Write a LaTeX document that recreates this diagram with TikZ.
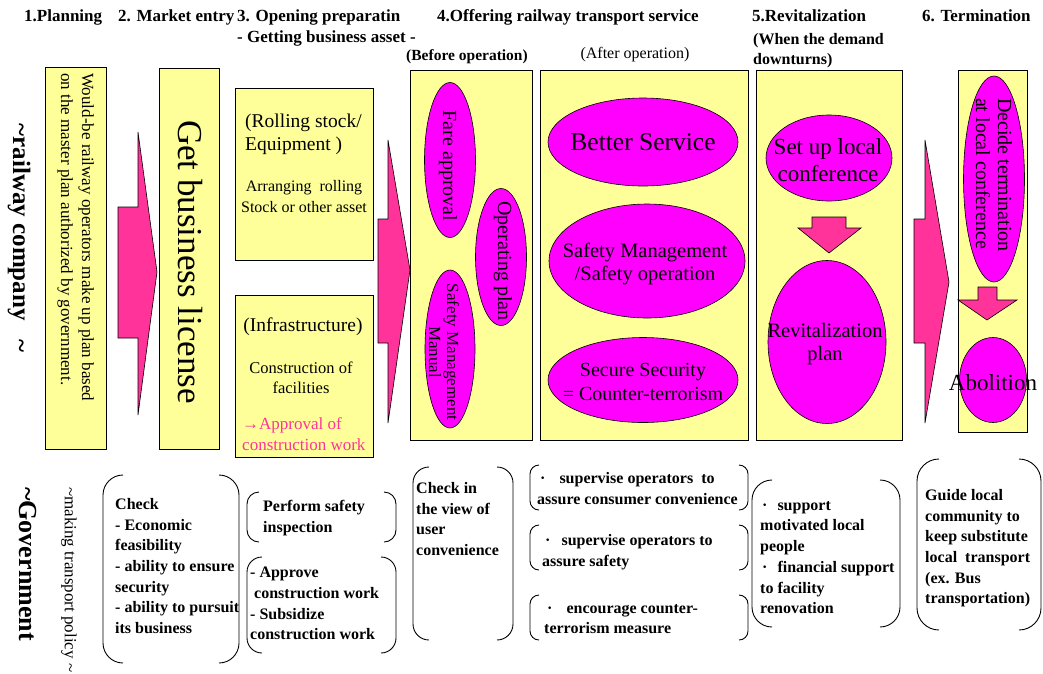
\documentclass[tikz,border=0pt]{standalone}
\usepackage{fontspec}
\setmainfont{Liberation Serif}
\definecolor{stageyellow}{HTML}{FFFF99}
\definecolor{goalmagenta}{HTML}{FF00FF}
\definecolor{flowpink}{HTML}{FF3399}
\usetikzlibrary{shapes.geometric}

\begin{document}
\begin{tikzpicture}[
  x=1pt,y=-1pt,
  stagebox/.style={fill=stageyellow,draw=black,line width=0.9pt},
  goal/.style={ellipse,fill=goalmagenta,draw=black,line width=0.6pt,inner sep=0pt},
  goaltext/.style={inner sep=0pt,align=center},
  flowarrow/.style={fill=flowpink,draw=black,line width=0.6pt},
  bracket/.style={draw=black,line width=0.9pt},
  stagehead/.style={inner sep=0pt,anchor=base west,font=\bfseries\fontsize{17}{20}\selectfont},
  phasehead/.style={inner sep=0pt,font=\fontsize{16}{20}\selectfont},
  boxtext/.style={inner sep=0pt,align=center},
  govtext/.style={inner sep=0pt,anchor=north west,align=left,font=\bfseries\fontsize{16}{20.7}\selectfont},
  sidelabel/.style={inner sep=0pt,rotate=-90}
]
  \useasboundingbox (0,0) rectangle (1043,673);

  \node[stagehead] (h1) at (24,21) {1.Planning};
  \node[stagehead] (h2) at (118,21) {2. Market entry};
  \node[stagehead] (h3) at (237,21) {3. Opening preparatin};
  \node[stagehead] (h3b) at (237,42) {- Getting business asset -};
  \node[stagehead] (h4) at (437,21) {4.Offering railway transport service};
  \node[stagehead] (h5) at (752,21) {5.Revitalization};
  \node[stagehead] (h6) at (922,21) {6. Termination};

  \node[phasehead,font=\bfseries\fontsize{15.5}{18}\selectfont] (before) at (467,57) {(Before operation)};
  \node[phasehead] (after) at (635,55) {(After operation)};
  \node[phasehead,font=\bfseries\fontsize{16}{20.5}\selectfont,align=left,anchor=north west] (demand) at (753,33) {(When the demand\\downturns)};

  \foreach \xa/\ya/\xb/\yb in {45/67/106/449, 159/68/219/449, 235/88/373/260, 235/295/373/457,
                                410/70/532/440, 540/70/748/440, 756/70/902/440, 958/70/1027/432} {
    \draw[stagebox] (\xa,\ya) rectangle (\xb,\yb);
  }

  \draw[flowarrow] (118,207) -- (138,207) -- (138,132) -- (157,272) -- (138,415) -- (138,338) -- (118,338) -- cycle;
  \draw[flowarrow] (378,219) -- (388,219) -- (388,140) -- (410,270) -- (388,423) -- (388,343) -- (378,343) -- cycle;
  \draw[flowarrow] (914,219) -- (925,219) -- (925,140) -- (949,282) -- (925,423) -- (925,343) -- (914,343) -- cycle;

  \node[goal,minimum width=51,minimum height=155] (fare) at (450,160) {};
  \node[goal,minimum width=51,minimum height=137] (opplan) at (501,257) {};
  \node[goal,minimum width=50,minimum height=158] (manual) at (450,349) {};
  \node[goal,minimum width=190,minimum height=88] (better) at (643,142) {};
  \node[goal,minimum width=196,minimum height=114] (safety) at (647,261) {};
  \node[goal,minimum width=190,minimum height=85] (secure) at (643,380) {};
  \node[goal,minimum width=126,minimum height=86] (conf) at (829,158) {};
  \node[goal,minimum width=118,minimum height=163] (revplan) at (827,342) {};
  \node[goal,minimum width=61,minimum height=206] (decide) at (994,179) {};
  \node[goal,minimum width=67,minimum height=85] (abolish) at (993,380) {};

  \draw[flowarrow] (812,217) -- (846,217) -- (846,228) -- (861,228) -- (829,253) -- (798,228) -- (812,228) -- cycle;
  \draw[flowarrow] (978,287) -- (997,287) -- (997,300) -- (1017,300) -- (987,320) -- (958,300) -- (978,300) -- cycle;

  \node[boxtext,rotate=-90,align=left,anchor=north west,font=\fontsize{17}{21}\selectfont] (plantxt) at (94,73)
    {Would-be railway operators make up plan based\\on the master plan authorized by government.};
  \node[boxtext,rotate=-90,font=\fontsize{35}{40}\selectfont] (licensetxt) at (190,262) {Get business license};
  \node[boxtext,align=left,anchor=west,font=\fontsize{19.5}{23}\selectfont] (rolltxt) at (245,134) {(Rolling stock/\\Equipment )};
  \node[boxtext,font=\fontsize{16}{21}\selectfont] (arrangetxt) at (304,197) {Arranging\ \ rolling\\Stock or other asset};
  \node[boxtext,font=\fontsize{19.5}{23}\selectfont] (infratxt) at (303,327) {(Infrastructure)};
  \node[boxtext,font=\fontsize{16.5}{19.5}\selectfont] (constxt) at (301,378) {Construction of\\facilities};
  \node[boxtext,align=left,anchor=west,text=flowpink,font=\fontsize{17}{21}\selectfont] (approvaltxt) at (242,434) {→Approval of\\construction work};

  \node[goaltext,rotate=-90,font=\fontsize{20}{22}\selectfont] (faretxt) at (448,166) {Fare approval};
  \node[goaltext,rotate=-90,font=\fontsize{20}{22}\selectfont] (opplantxt) at (503,261) {Operating plan};
  \node[goaltext,rotate=-90,font=\fontsize{17}{18}\selectfont] (manualtxt) at (444,352) {Safety Management\\Manual};
  \node[goaltext,font=\fontsize{25.5}{30}\selectfont] (bettertxt) at (643,142) {Better Service};
  \node[goaltext,font=\fontsize{20.5}{23}\selectfont] (safetytxt) at (645,264) {Safety Management\\/Safety operation};
  \node[goaltext,font=\fontsize{20}{24}\selectfont] (securetxt) at (643,382) {Secure Security\\= Counter-terrorism};
  \node[goaltext,font=\fontsize{23}{27}\selectfont] (conftxt) at (828,160) {Set up local\\conference};
  \node[goaltext,font=\fontsize{20.5}{23}\selectfont] (revplantxt) at (825,344) {Revitalization\\plan};
  \node[goaltext,rotate=-90,align=left,font=\fontsize{20}{22}\selectfont] (decidetxt) at (994,175) {Decide termination\\at local conference};
  \node[goaltext,font=\fontsize{23}{27}\selectfont] (abolishtxt) at (993,383) {Abolition};

  \node[sidelabel,font=\bfseries\fontsize{25}{30}\selectfont] (railside) at (19,238) {\textasciitilde railway company\ \ \ \textasciitilde};
  \node[sidelabel,anchor=west,font=\bfseries\fontsize{26}{30}\selectfont] (govside) at (28,487) {\textasciitilde Government};
  \node[sidelabel,anchor=west,font=\fontsize{17}{20}\selectfont] (policyside) at (69,487) {\textasciitilde making transport policy \textasciitilde};

  \foreach \xl/\xr/\yt/\yb/\r in {103/239/475/663/20, 247/396/492/542/12, 247/396/557/653/15,
                                   413/513/467/640/16, 530/748/465/510/9, 530/748/525/570/9,
                                   530/748/595/640/9, 752/900/480/627/20, 917/1041/459/630/22} {
    \draw[bracket,rounded corners=\r pt] (\xl+\r,\yt) -- (\xl,\yt) -- (\xl,\yb) -- (\xl+\r,\yb);
    \draw[bracket,rounded corners=\r pt] (\xr-\r,\yt) -- (\xr,\yt) -- (\xr,\yb) -- (\xr-\r,\yb);
  }

  \node[govtext] (checktxt) at (115,498) {Check\\- Economic\\feasibility\\- ability to ensure\\security\\- ability to pursuit\\its business};
  \node[govtext] (inspecttxt) at (263,500) {Perform safety\\inspection};
  \node[govtext] (approvetxt) at (250,567) {- Approve\\\ construction work\\- Subsidize\\construction work};
  \node[govtext] (viewtxt) at (416,482) {Check in\\the view of\\user\\convenience};
  \node[govtext] (consumertxt) at (537,472) {\hspace{3pt}·\hspace{14pt}supervise operators\ \ to\\assure consumer convenience};
  \node[govtext] (safetygov) at (542,534) {\hspace{3pt}·\hspace{11pt}supervise operators to\\assure safety};
  \node[govtext] (terrortxt) at (544,604) {\hspace{3pt}·\hspace{14pt}encourage counter-\\terrorism measure};
  \node[govtext] (supporttxt) at (760,501) {\hspace{2pt}·\hspace{10pt}support\\motivated local\\people\\\hspace{2pt}·\hspace{10pt}financial support\\to facility\\renovation};
  \node[govtext] (guidetxt) at (925,489) {Guide local\\community to\\keep substitute\\local\ \ transport\\(ex. Bus\\transportation)};
\end{tikzpicture}
\end{document}
